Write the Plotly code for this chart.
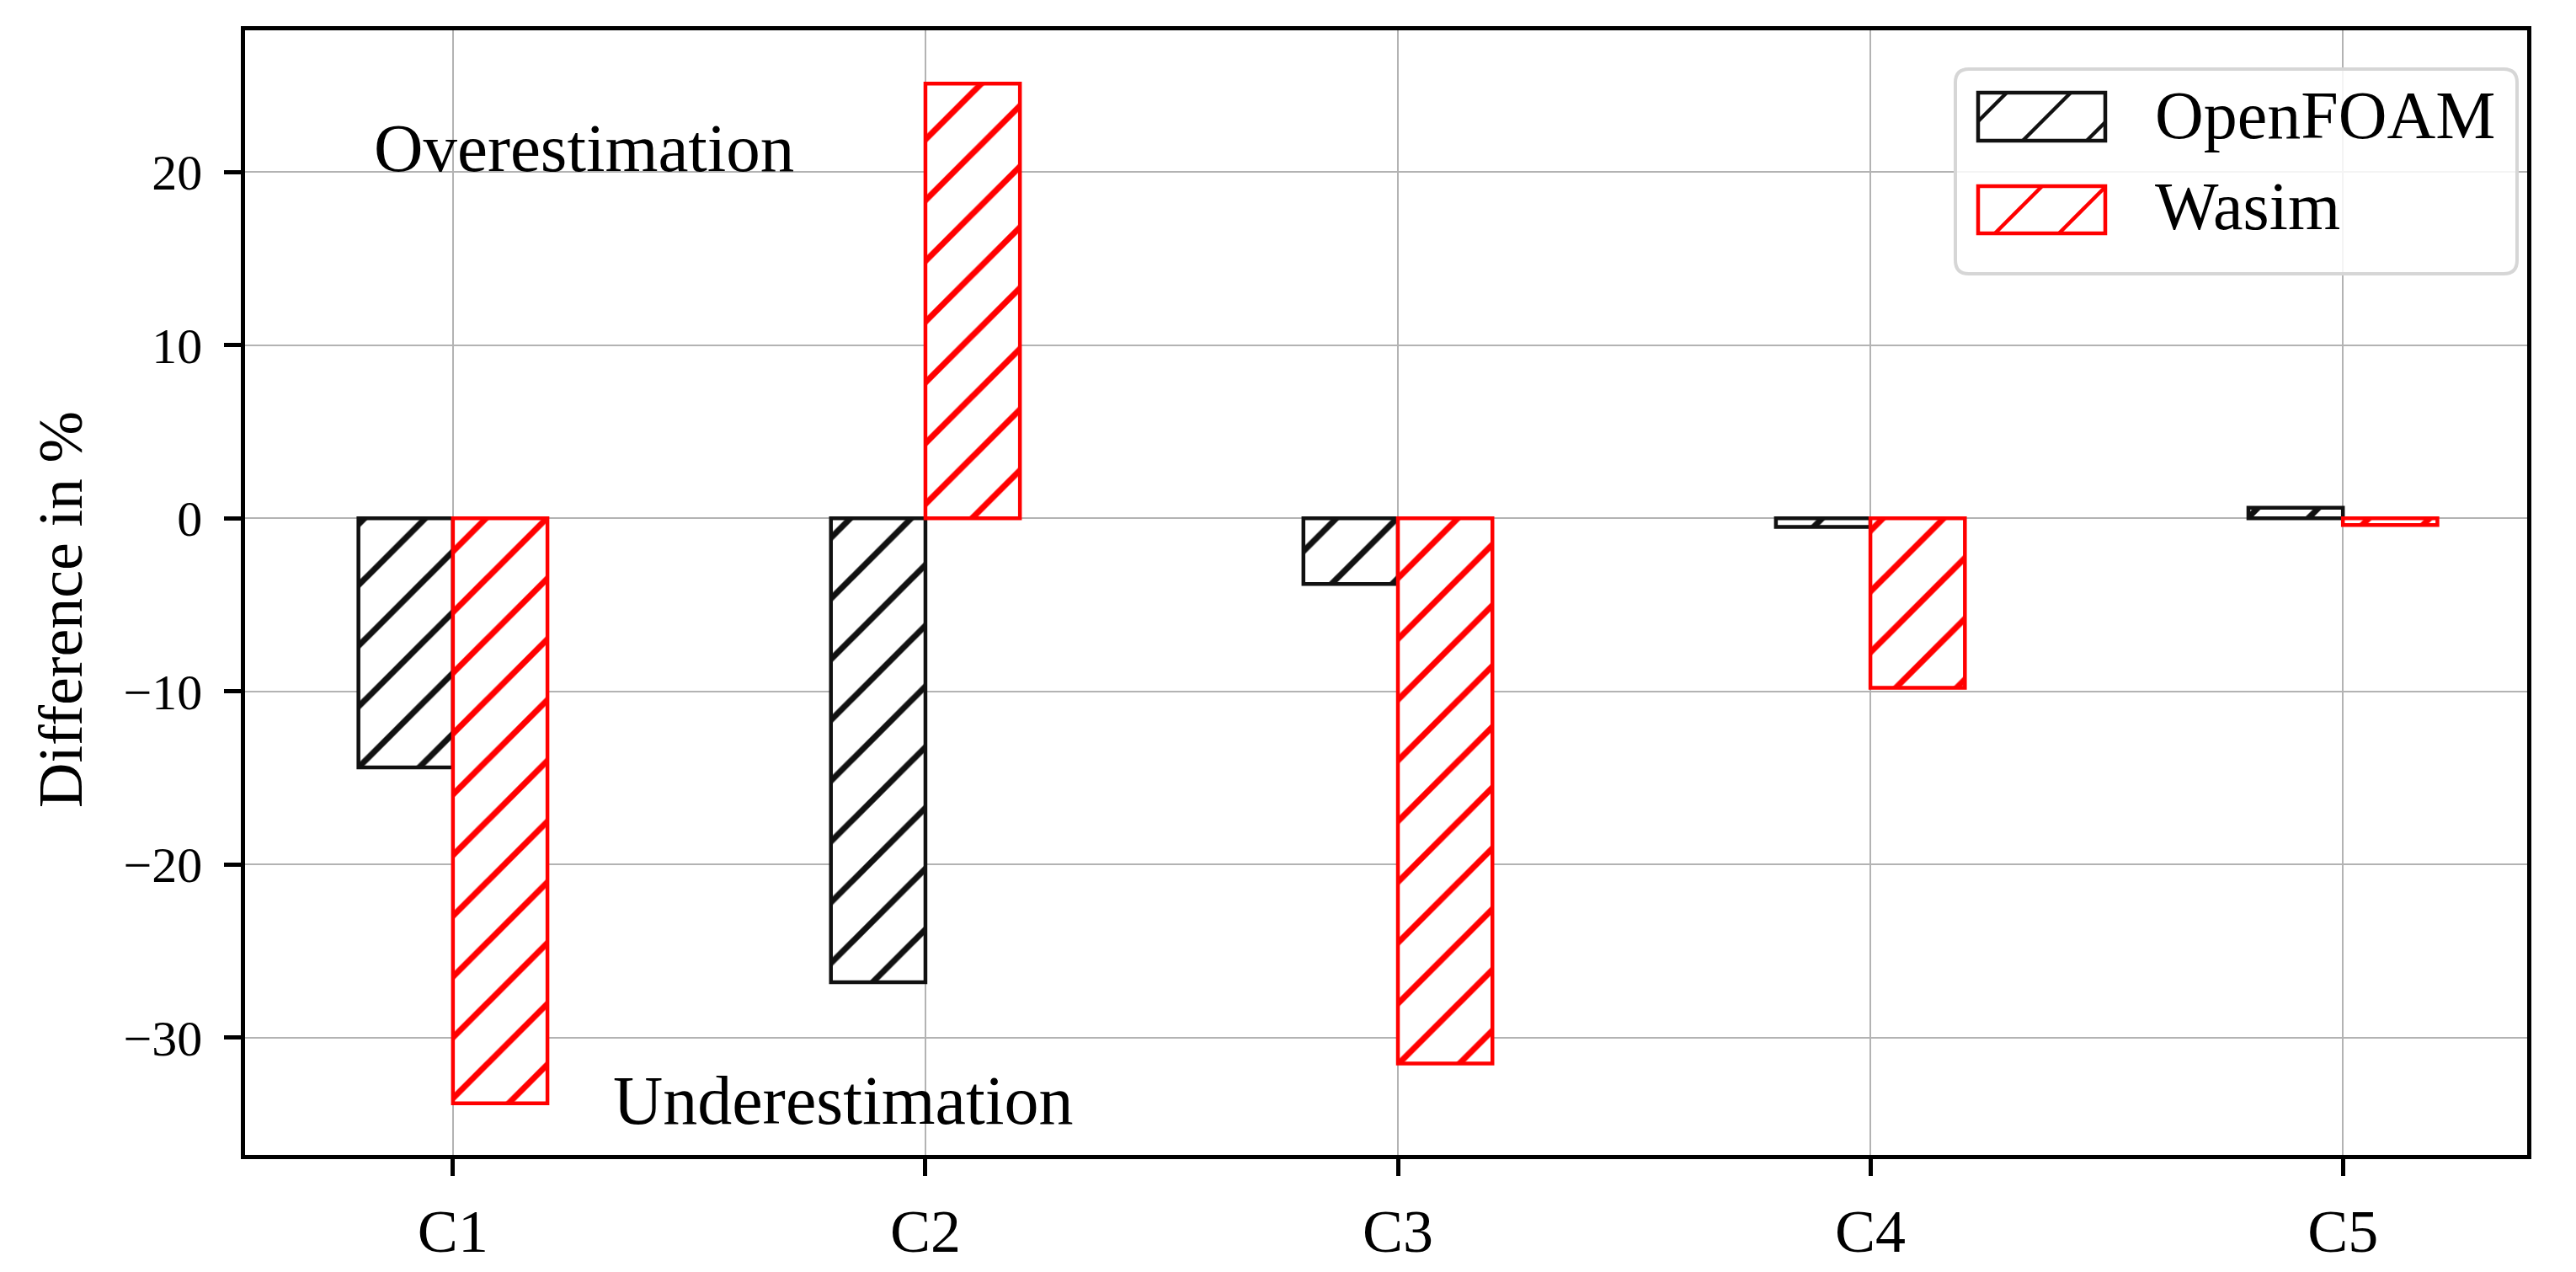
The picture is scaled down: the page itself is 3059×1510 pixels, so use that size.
import plotly.graph_objects as go

categories = ["C1", "C2", "C3", "C4", "C5"]
openfoam = [-14.4, -26.8, -3.8, -0.5, 0.6]
wasim = [-33.8, 25.1, -31.5, -9.8, -0.4]
series_names = ["OpenFOAM", "Wasim"]
series_colors = ["#111111", "#ff0000"]
y_ticks = [-30, -20, -10, 0, 10, 20]
y_ticktext = ["\u221230", "\u221220", "\u221210", "0", "10", "20"]

FONT = "Liberation Serif"
W, H = 3059, 1510
L, R, T, B = 283, 66, 28, 147
PW, PH = W - L - R, H - T - B


def px(x):
    return (x - L) / PW


def py(y):
    return 1 - (y - T) / PH


xpos = list(range(len(categories)))
bar_w = 0.2

fig = go.Figure()
for vals, name, col, off in [(openfoam, series_names[0], series_colors[0], -bar_w),
                             (wasim, series_names[1], series_colors[1], 0)]:
    fig.add_trace(go.Bar(
        x=xpos, y=vals, name=name, width=bar_w, offset=off, showlegend=False,
        marker=dict(color="white", opacity=1, line=dict(color=col, width=4.5),
                    pattern=dict(shape="/", fgcolor=col, bgcolor="white",
                                 fgopacity=1, fillmode="replace",
                                 size=51, solidity=0.14)),
    ))

fig.update_layout(
    width=W, height=H,
    margin=dict(l=L, r=R, t=T, b=B),
    plot_bgcolor="white", paper_bgcolor="white",
    barmode="overlay",
    font=dict(family=FONT, color="black"),
    showlegend=False,
)
fig.update_xaxes(
    range=[-0.44, 4.39], tickvals=xpos, ticktext=categories,
    tickfont=dict(size=72, family=FONT), ticklabelstandoff=4,
    showgrid=True, gridcolor="#b3b3b3", gridwidth=2.4,
    showline=True, linecolor="black", linewidth=4.5, mirror=True,
    ticks="outside", ticklen=20, tickwidth=4.5, tickcolor="black",
    zeroline=False,
)
fig.update_yaxes(
    range=[-36.78, 28.18], tickvals=y_ticks, ticktext=y_ticktext,
    tickfont=dict(size=60, family=FONT), ticklabelstandoff=14,
    showgrid=True, gridcolor="#b3b3b3", gridwidth=2.4,
    showline=True, linecolor="black", linewidth=4.5, mirror=True,
    ticks="outside", ticklen=20, tickwidth=4.5, tickcolor="black",
    zeroline=False,
)

# axis title
fig.add_annotation(text="Difference in %", xref="paper", yref="paper",
                   x=px(64), y=py(716), xanchor="center", yanchor="middle",
                   textangle=-90, showarrow=False,
                   font=dict(size=74, family=FONT))
# region labels
fig.add_annotation(text="Overestimation", x=-0.17, y=20, xref="x", yref="y",
                   xanchor="left", yanchor="middle", yshift=28,
                   showarrow=False, font=dict(size=81, family=FONT))
fig.add_annotation(text="Underestimation", x=0.335, y=-35, xref="x", yref="y",
                   xanchor="left", yanchor="middle", yshift=28,
                   showarrow=False, font=dict(size=82, family=FONT))

# ---- legend (drawn manually so the hatched swatches have matplotlib size) ----
bx0, bx1, by0, by1, rad = 2314, 2981, 74, 317, 16
path = (f"M {px(bx0 + rad)} {py(by0)} L {px(bx1 - rad)} {py(by0)} "
        f"Q {px(bx1)} {py(by0)} {px(bx1)} {py(by0 + rad)} "
        f"L {px(bx1)} {py(by1 - rad)} Q {px(bx1)} {py(by1)} {px(bx1 - rad)} {py(by1)} "
        f"L {px(bx0 + rad)} {py(by1)} Q {px(bx0)} {py(by1)} {px(bx0)} {py(by1 - rad)} "
        f"L {px(bx0)} {py(by0 + rad)} Q {px(bx0)} {py(by0)} {px(bx0 + rad)} {py(by0)} Z")
fig.add_shape(type="path", path=path, xref="paper", yref="paper",
              fillcolor="rgba(255,255,255,0.85)", line=dict(color="#d6d6d6", width=4),
              layer="above")

sw_x0, sw_x1 = 2341, 2492
rows = [(102, 159, 160, [2477, 2553, 2629]), (213, 269, 268, [2554, 2630, 2706])]


def clip_diag(c, x0, x1, y0, y1):
    # line x + y = c (page px, y downward), clipped to rectangle
    pts = []
    for x in (x0, x1):
        y = c - x
        if y0 <= y <= y1:
            pts.append((x, y))
    for y in (y0, y1):
        x = c - y
        if x0 <= x <= x1:
            pts.append((x, y))
    pts = sorted(set(pts))
    if len(pts) >= 2:
        return pts[0], pts[-1]
    return None


for (y0, y1, base, cs), name, col in zip(rows, series_names, series_colors):
    fig.add_shape(type="rect", xref="paper", yref="paper",
                  x0=px(sw_x0), x1=px(sw_x1), y0=py(y0), y1=py(y1),
                  fillcolor="white", line=dict(color=col, width=4.5), layer="above")
    for c in cs:
        seg = clip_diag(c, sw_x0, sw_x1, y0, y1)
        if seg:
            (ax, ay), (bx, by) = seg
            fig.add_shape(type="line", xref="paper", yref="paper",
                          x0=px(ax), y0=py(ay), x1=px(bx), y1=py(by),
                          line=dict(color=col, width=4.5), layer="above")
    fig.add_annotation(text=name, xref="paper", yref="paper",
                       x=px(2549), y=py(base), xanchor="left", yanchor="middle",
                       yshift=31, showarrow=False,
                       font=dict(size=80, family=FONT))

fig.write_html("out.html")
